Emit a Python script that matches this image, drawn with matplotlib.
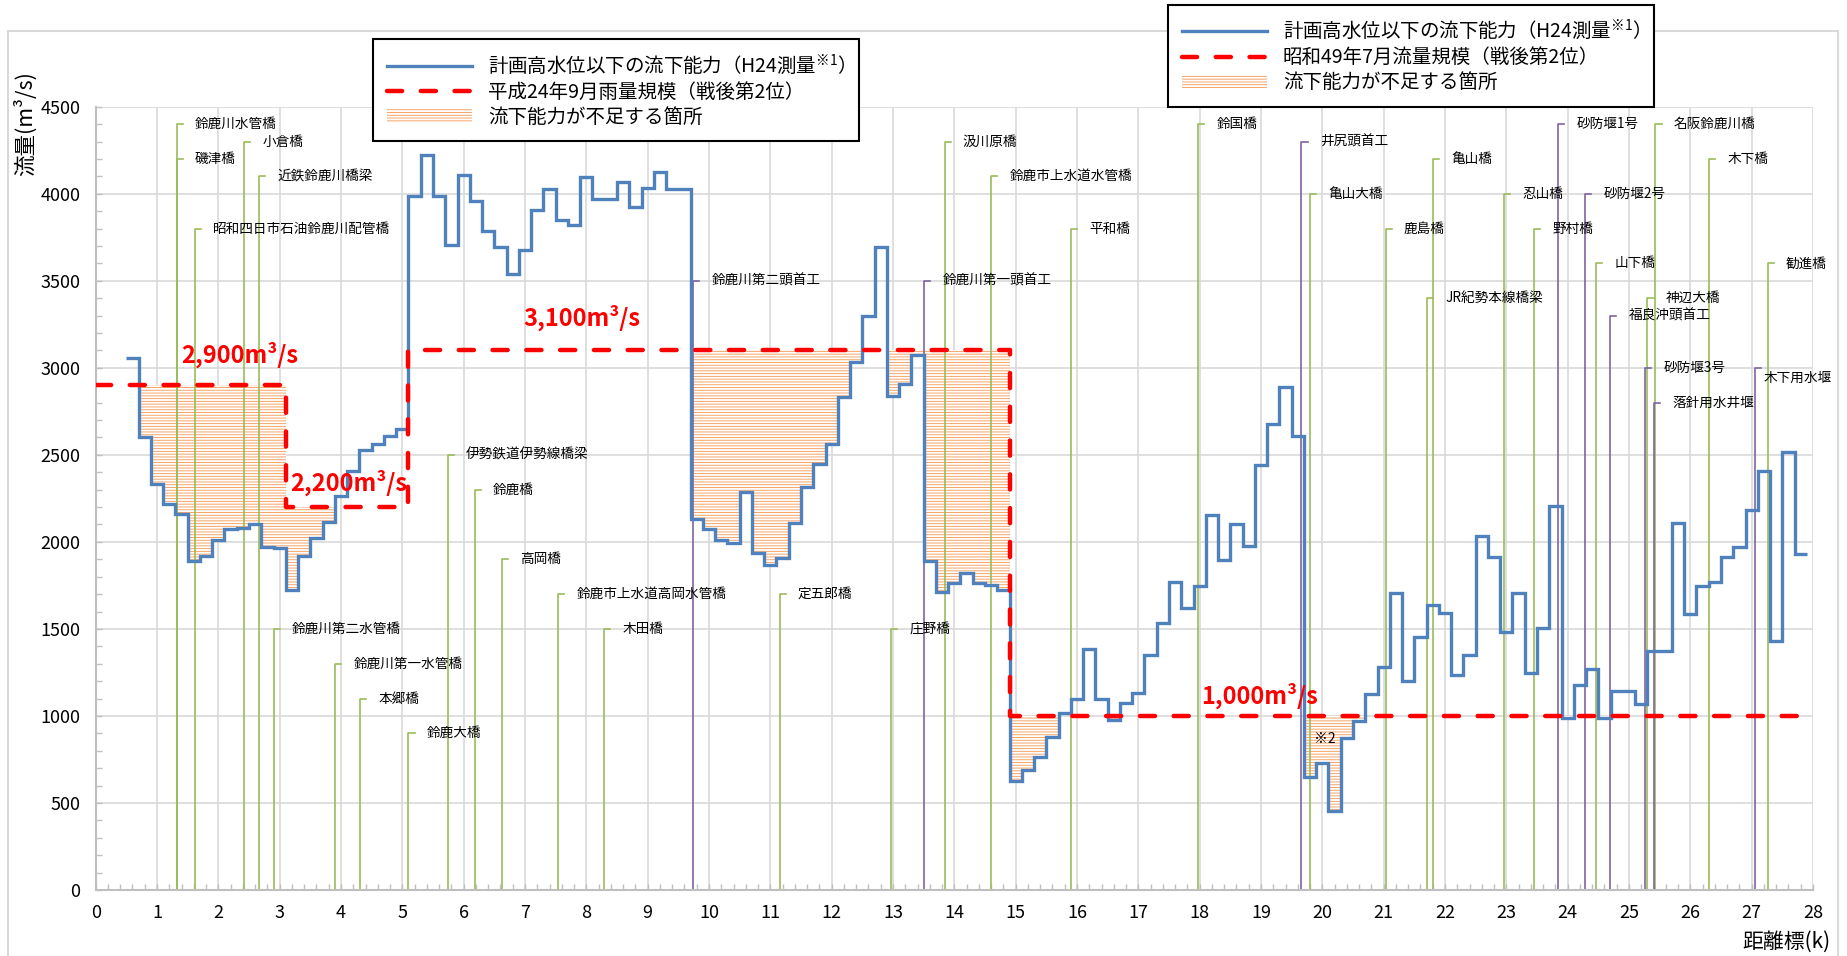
import numpy as np
import matplotlib.pyplot as plt
from matplotlib.lines import Line2D
from matplotlib.patches import Patch, Rectangle
from matplotlib.ticker import MultipleLocator

plt.rcParams['font.family'] = ['Noto Sans CJK JP', 'DejaVu Sans']
plt.rcParams['mathtext.fontset'] = 'custom'
plt.rcParams['mathtext.rm'] = 'Noto Sans CJK JP'
plt.rcParams['mathtext.it'] = 'Noto Sans CJK JP'
plt.rcParams['hatch.linewidth'] = 0.7

# 流下能力 (200m pitch)
km = np.round(np.arange(0.6, 27.81, 0.2), 1)
capacity = [3057, 2600, 2330, 2218, 2160, 1890, 1918, 2013, 2072, 2082,
            2105, 1973, 1966, 1725, 1918, 2025, 2113, 2263, 2410, 2527,
            2563, 2609, 2651, 3986, 4224, 3986, 3703, 4108, 3958, 3784,
            3693, 3537, 3678, 3909, 4027, 3851, 3822, 4096, 3967, 3967,
            4067, 3925, 4035, 4127, 4025, 4025, 2130, 2072, 2011, 1996,
            2284, 1939, 1868, 1906, 2111, 2317, 2447, 2561, 2832, 3034,
            3300, 3694, 2840, 2908, 3076, 1891, 1713, 1763, 1821, 1761,
            1750, 1725, 628, 689, 765, 880, 1019, 1095, 1387, 1095,
            975, 1076, 1134, 1353, 1532, 1767, 1618, 1744, 2153, 1897,
            2103, 1977, 2439, 2677, 2891, 2611, 651, 727, 456, 872,
            971, 1124, 1281, 1706, 1200, 1456, 1639, 1590, 1233, 1353,
            2034, 1916, 1485, 1706, 1248, 1506, 2208, 987, 1176, 1267,
            987, 1143, 1143, 1067, 1376, 1376, 2111, 1584, 1748, 1767,
            1914, 1971, 2185, 2408, 1433, 2515, 1933]
edges = np.append(km - 0.1, km[-1] + 0.1)

# 目標流量
target_km = [0, 3.1, 5.1, 14.9, 27.85]
target_q = [2900, 2200, 3100, 1000]

# 橋梁
bridge_names = ['鈴鹿川水管橋', '磯津橋', '昭和四日市石油鈴鹿川配管橋', '小倉橋', '近鉄鈴鹿川橋梁',
                '鈴鹿川第二水管橋', '鈴鹿川第一水管橋', '本郷橋', '鈴鹿大橋', '伊勢鉄道伊勢線橋梁',
                '鈴鹿橋', '高岡橋', '鈴鹿市上水道高岡水管橋', '木田橋', '定五郎橋', '庄野橋',
                '汲川原橋', '鈴鹿市上水道水管橋', '平和橋', '鈴国橋', '亀山大橋', '鹿島橋',
                'JR紀勢本線橋梁', '亀山橋', '忍山橋', '野村橋', '山下橋', '神辺大橋',
                '名阪鈴鹿川橋', '木下橋', '勧進橋']
bridge_km = [1.32, 1.32, 1.62, 2.42, 2.66, 2.90, 3.90, 4.31, 5.10, 5.74, 6.18, 6.62,
             7.54, 8.29, 11.15, 12.97, 13.84, 14.60, 15.90, 17.97, 19.80, 21.03, 21.71,
             21.80, 22.96, 23.45, 24.46, 25.30, 25.43, 26.31, 27.26]
bridge_top = [4400, 4200, 3800, 4300, 4100, 1500, 1300, 1100, 900, 2500, 2300, 1900,
              1700, 1500, 1700, 1500, 4300, 4100, 3800, 4400, 4000, 3800, 3400,
              4200, 4000, 3800, 3600, 3400, 4400, 4200, 3600]

# 堰・頭首工
weir_names = ['鈴鹿川第二頭首工', '鈴鹿川第一頭首工', '井尻頭首工', '砂防堰1号', '砂防堰2号',
              '福良沖頭首工', '砂防堰3号', '落針用水井堰', '木下用水堰']
weir_km = [9.74, 13.51, 19.66, 23.84, 24.28, 24.69, 25.26, 25.41, 27.05]
weir_top = [3500, 3500, 4300, 4400, 4000, 3300, 3000, 2800, 3000]

blue = '#4F81BD'
red = '#FF0000'
green = '#9BBB59'
purple = '#8064A2'
orange = '#F7A468'

fig = plt.figure(figsize=(18.47, 9.56), dpi=100)
ax = fig.add_axes([0.0518, 0.069, 0.9298, 0.8194])

# chart area frame, kept under the axes so the legends cover it
fig.patches.append(Rectangle((0.0043, -0.01), 0.9908, 0.9776, transform=fig.transFigure,
                             fill=False, edgecolor='#D9D9D9', linewidth=1.5, zorder=-1))

# 不足箇所
red_edges = np.array(target_km)
cuts = np.unique(np.round(np.concatenate(
    [edges, red_edges[(red_edges > edges[0]) & (red_edges < edges[-1])]]), 3))
for a, b in zip(cuts[:-1], cuts[1:]):
    m = 0.5 * (a + b)
    q = capacity[np.searchsorted(edges, m) - 1]
    t = target_q[min(np.searchsorted(red_edges, m) - 1, len(target_q) - 1)]
    if q < t:
        ax.fill_between([a, b], q, t, facecolor='white', edgecolor=orange,
                        hatch='------', linewidth=0, zorder=1.5)

for name, x, top in zip(bridge_names, bridge_km, bridge_top):
    ax.plot([x, x, x + 0.1], [0, top, top], color=green, lw=1.2, zorder=2)
    ax.text(x + 0.3, top, name, fontsize=9.8, ha='left', va='center', zorder=5)

for name, x, top in zip(weir_names, weir_km, weir_top):
    ax.plot([x, x, x + 0.1], [0, top, top], color=purple, lw=1.2, zorder=2)
    dx, dy = 0.3, 0
    if name == '木下用水堰':
        # last label sits a bit closer and lower
        dx, dy = 0.14, -60
    ax.text(x + dx, top + dy, name, fontsize=9.8, ha='left', va='center', zorder=5)

ax.stairs(capacity, edges, baseline=None, color=blue, linewidth=2.4, zorder=3)
ax.plot(target_km, target_q + [target_q[-1]], drawstyle='steps-post', color=red,
        linewidth=3.2, dashes=(3.4, 4.2), dash_capstyle='round', zorder=4)

ax.text(1.39, 3075, '2,900m³/s', color=red, fontsize=17, fontweight='bold', ha='left', va='center', zorder=6)
ax.text(3.17, 2340, '2,200m³/s', color=red, fontsize=17, fontweight='bold', ha='left', va='center', zorder=6)
ax.text(6.98, 3285, '3,100m³/s', color=red, fontsize=17, fontweight='bold', ha='left', va='center', zorder=6)
ax.text(18.03, 1118, '1,000m³/s', color=red, fontsize=17, fontweight='bold', ha='left', va='center', zorder=6)
ax.text(19.86, 866, '※2', fontsize=10, ha='left', va='center', zorder=6)

ax.set_xlim(0, 28)
ax.set_ylim(0, 4500)
ax.xaxis.set_major_locator(MultipleLocator(1))
ax.xaxis.set_minor_locator(MultipleLocator(0.2))
ax.yaxis.set_major_locator(MultipleLocator(500))
ax.yaxis.set_minor_locator(MultipleLocator(100))
ax.grid(True, which='major', color='#D9D9D9', linewidth=1.2, zorder=0)
ax.set_axisbelow(True)
ax.tick_params(which='both', direction='in', color='#BFBFBF', length=4, width=1)
ax.tick_params(axis='y', labelsize=13, pad=11)
ax.tick_params(axis='x', labelsize=13, pad=10)
for s in ['top', 'right']:
    ax.spines[s].set_visible(False)
for s in ['left', 'bottom']:
    ax.spines[s].set_color('#BFBFBF')
    ax.spines[s].set_linewidth(1.5)

fig.text(0.0135, 0.871, '流量(m³/s)', rotation=90, fontsize=15.5, ha='center', va='center')
fig.text(0.991, 0.0146, '距離標(k)', fontsize=15, ha='right', va='center')

h_blue = Line2D([], [], color=blue, linewidth=2.4)
h_red = Line2D([], [], color=red, linewidth=3.2, dashes=(3.4, 4.2), dash_capstyle='round')
h_fill = Patch(facecolor='white', edgecolor=orange, hatch='------', linewidth=0)

cap_label = '計画高水位以下の流下能力（H24測量$^{※1}$）'
leg_kw = dict(loc='upper left', bbox_transform=fig.transFigure, borderaxespad=0,
              fontsize=14, handlelength=4.4, handletextpad=0.8, labelspacing=0.2,
              borderpad=0.7, fancybox=False, framealpha=1, edgecolor='black')
leg1 = ax.legend([h_blue, h_red, h_fill],
                 [cap_label, '平成24年9月雨量規模（戦後第2位）', '流下能力が不足する箇所'],
                 bbox_to_anchor=(0.202, 0.959), **leg_kw)
leg1.get_frame().set_linewidth(1.5)
leg1.set_zorder(10)
ax.add_artist(leg1)
leg2 = ax.legend([h_blue, h_red, h_fill],
                 [cap_label, '昭和49年7月流量規模（戦後第2位）', '流下能力が不足する箇所'],
                 bbox_to_anchor=(0.6325, 0.995), **leg_kw)
leg2.get_frame().set_linewidth(1.5)
leg2.set_zorder(10)
leg2.set_clip_on(False)

fig.savefig('out.png', dpi=100)
